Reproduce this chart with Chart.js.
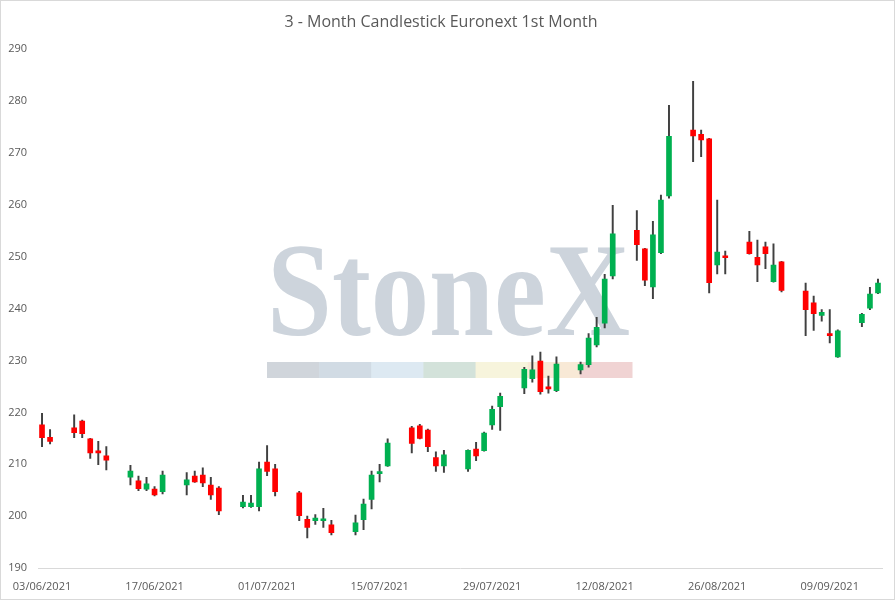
<!DOCTYPE html>
<html>
<head>
<meta charset="utf-8">
<script src="https://cdn.jsdelivr.net/npm/chart.js@4.4.1/dist/chart.umd.min.js"></script>
<style>
  html, body { margin: 0; padding: 0; background: #fff; }
  canvas { display: block; }
</style>
</head>
<body>
<canvas id="chart" width="896" height="601"></canvas>
<script>
// trading days and OHLC values
const dates = [
  "03/06/2021", "04/06/2021", "07/06/2021", "08/06/2021", "09/06/2021", "10/06/2021", "11/06/2021",
  "14/06/2021", "15/06/2021", "16/06/2021", "17/06/2021", "18/06/2021",
  "21/06/2021", "22/06/2021", "23/06/2021", "24/06/2021", "25/06/2021",
  "28/06/2021", "29/06/2021", "30/06/2021", "01/07/2021", "02/07/2021",
  "05/07/2021", "06/07/2021", "07/07/2021", "08/07/2021", "09/07/2021",
  "12/07/2021", "13/07/2021", "14/07/2021", "15/07/2021", "16/07/2021",
  "19/07/2021", "20/07/2021", "21/07/2021", "22/07/2021", "23/07/2021",
  "26/07/2021", "27/07/2021", "28/07/2021", "29/07/2021", "30/07/2021",
  "02/08/2021", "03/08/2021", "04/08/2021", "05/08/2021", "06/08/2021",
  "09/08/2021", "10/08/2021", "11/08/2021", "12/08/2021", "13/08/2021",
  "16/08/2021", "17/08/2021", "18/08/2021", "19/08/2021", "20/08/2021",
  "23/08/2021", "24/08/2021", "25/08/2021", "26/08/2021", "27/08/2021",
  "30/08/2021", "31/08/2021", "01/09/2021", "02/09/2021", "03/09/2021",
  "06/09/2021", "07/09/2021", "08/09/2021", "09/09/2021", "10/09/2021",
  "13/09/2021", "14/09/2021", "15/09/2021"
];
const openPrices = [
  217.6, 215.2, 217.0, 218.3, 214.9, 212.6, 211.6,
  207.5, 206.8, 205.2, 205.2, 204.7,
  206.0, 207.7, 207.9, 206.0, 205.4,
  201.8, 201.8, 201.8, 210.4, 209.1,
  204.5, 199.4, 199.1, 199.1, 198.3,
  197.0, 199.3, 203.2, 208.2, 209.7,
  217.0, 217.4, 216.6, 211.3, 209.7,
  209.1, 212.9, 212.6, 217.6, 221.1,
  224.7, 226.5, 229.9, 224.9, 224.2,
  228.2, 229.2, 233.0, 237.2, 246.3,
  255.1, 251.5, 244.2, 250.8, 261.7,
  274.4, 273.6, 272.7, 248.4, 250.1,
  252.8, 249.9, 251.9, 245.2, 249.0,
  243.4, 241.1, 238.7, 235.0, 230.7,
  237.3, 240.1, 243.0
];
const highPrices = [
  219.8, 216.7, 219.5, 218.5, 215.0, 214.4, 213.4,
  209.8, 207.7, 207.5, 205.7, 208.7,
  208.4, 208.7, 209.3, 207.5, 205.7,
  204.0, 204.0, 210.4, 213.6, 210.0,
  204.8, 200.0, 200.3, 201.5, 199.2,
  200.2, 203.3, 208.7, 210.0, 214.9,
  217.3, 217.7, 216.8, 212.4, 212.7,
  212.8, 214.2, 216.2, 221.2, 223.7,
  228.7, 230.9, 231.6, 227.0, 230.7,
  229.7, 235.2, 238.3, 246.6, 259.9,
  258.9, 251.6, 256.8, 261.9, 279.2,
  283.8, 274.4, 272.8, 260.9, 251.1,
  254.9, 253.2, 252.8, 252.5, 249.1,
  244.9, 242.4, 239.8, 239.8, 235.9,
  239.1, 244.1, 245.7
];
const lowPrices = [
  213.4, 213.9, 215.1, 215.1, 211.1, 209.9, 208.9,
  206.0, 204.9, 204.9, 203.9, 204.3,
  204.1, 206.5, 205.7, 203.2, 200.3,
  201.6, 201.7, 201.0, 207.8, 203.9,
  199.1, 195.8, 198.4, 197.8, 196.4,
  196.4, 197.4, 201.4, 206.6, 209.6,
  212.2, 214.9, 212.4, 208.6, 208.4,
  208.6, 210.7, 212.5, 216.7, 216.5,
  223.6, 225.8, 223.5, 223.7, 224.0,
  227.4, 228.7, 232.6, 236.3, 245.7,
  249.3, 244.4, 241.9, 250.6, 261.3,
  268.3, 269.3, 243.0, 246.7, 246.7,
  250.5, 245.2, 247.7, 245.1, 243.2,
  234.8, 235.8, 237.6, 233.4, 230.6,
  236.5, 239.8, 242.9
];
const closePrices = [
  215.1, 214.4, 216.1, 215.9, 212.2, 212.2, 210.8,
  208.7, 205.3, 206.2, 204.1, 207.9,
  207.0, 206.6, 206.4, 204.1, 201.0,
  202.7, 202.5, 209.1, 208.6, 204.7,
  200.1, 197.8, 199.6, 199.4, 196.8,
  198.7, 202.3, 207.9, 208.6, 214.1,
  214.0, 215.0, 213.4, 209.7, 211.8,
  212.7, 211.6, 216.0, 220.6, 223.1,
  228.3, 228.2, 224.0, 224.5, 229.3,
  229.2, 234.3, 236.4, 245.7, 254.4,
  252.3, 245.5, 254.2, 260.9, 273.2,
  273.3, 272.5, 245.0, 250.9, 249.8,
  250.6, 248.4, 250.6, 248.4, 243.5,
  239.8, 239.0, 239.3, 234.8, 235.7,
  238.9, 242.8, 244.9
];

const UP = "#00B050";
const DOWN = "#FF0000";
const WICK = "#404040";
const TEXT = "#595959";

// calendar axis: every day from the first to the last trading day
function parseDate(s) {
  const [d, m, y] = s.split("/").map(Number);
  return new Date(Date.UTC(y, m - 1, d));
}
function fmt(dt) {
  const d = String(dt.getUTCDate()).padStart(2, "0");
  const m = String(dt.getUTCMonth() + 1).padStart(2, "0");
  return `${d}/${m}/${dt.getUTCFullYear()}`;
}
const calendar = [];
for (let t = parseDate(dates[0]); t <= parseDate(dates[dates.length - 1]); t = new Date(t.getTime() + 86400000)) {
  calendar.push(fmt(t));
}

const bodies = dates.map((d, i) => ({ x: d, y: [openPrices[i], closePrices[i]] }));
const wicks = dates.map((d, i) => ({ x: d, y: [lowPrices[i], highPrices[i]] }));
const bodyColors = dates.map((d, i) => (closePrices[i] >= openPrices[i] ? UP : DOWN));

const watermark = {
  id: "watermark",
  beforeDatasetsDraw(chart) {
    const ctx = chart.ctx;
    ctx.save();
    const strip = ["#d0d5db", "#d1dbe4", "#dde9f2", "#d3e2da", "#f7f4dc", "#f8e9d6", "#f0d3d3"];
    const x0 = 267, w = 365 / strip.length;
    strip.forEach((c, i) => {
      ctx.fillStyle = c;
      ctx.fillRect(x0 + i * w, 362, w + 0.5, 16);
    });
    ctx.font = 'bold 134px "Liberation Serif", "DejaVu Serif", serif';
    ctx.fillStyle = "#cdd4dc";
    ctx.textBaseline = "alphabetic";
    const tw = ctx.measureText("StoneX").width;
    ctx.translate(267, 335);
    ctx.scale(363 / tw, 1);
    ctx.fillText("StoneX", 0, 0);
    ctx.restore();
  },
};

const frame = {
  id: "frame",
  afterDraw(chart) {
    const ctx = chart.ctx;
    ctx.save();
    ctx.strokeStyle = "#d9d9d9";
    ctx.lineWidth = 1;
    ctx.strokeRect(0.5, 0.5, chart.width - 2, chart.height - 2);
    ctx.restore();
  },
};

new Chart(document.getElementById("chart"), {
  type: "bar",
  data: {
    labels: calendar,
    datasets: [
      {
        label: "body",
        data: bodies,
        backgroundColor: bodyColors,
        barThickness: 5,
        minBarLength: 2,
        grouped: false,
        order: 0,
      },
      {
        label: "wick",
        data: wicks,
        backgroundColor: WICK,
        barThickness: 1.3,
        grouped: false,
        order: 1,
      },
    ],
  },
  options: {
    responsive: false,
    animation: false,
    layout: { padding: { left: 0, right: 14, top: 0, bottom: 0 } },
    plugins: {
      legend: { display: false },
      tooltip: { enabled: false },
      title: {
        display: true,
        text: "3 - Month Candlestick Euronext 1st Month",
        color: TEXT,
        font: { family: "'Open Sans'", size: 16, weight: "normal" },
        padding: { top: 13, bottom: 17 },
      },
    },
    scales: {
      x: {
        type: "category",
        offset: true,
        grid: { display: false, drawTicks: false },
        border: { display: true, color: "#d9d9d9" },
        ticks: {
          autoSkip: false,
          maxRotation: 0,
          minRotation: 0,
          padding: 12,
          color: TEXT,
          font: { family: "'Open Sans'", size: 11 },
          callback: (v, i) => (i % 14 === 0 ? calendar[i] : ""),
        },
        afterFit: (s) => { s.height = 33; },
      },
      y: {
        min: 190,
        max: 290,
        grid: { display: false, drawTicks: false },
        border: { display: false },
        ticks: {
          stepSize: 10,
          padding: 11,
          color: TEXT,
          font: { family: "'Open Sans'", size: 11 },
        },
        afterFit: (s) => { s.width = 38; },
      },
    },
  },
  plugins: [watermark, frame],
});
</script>
</body>
</html>
